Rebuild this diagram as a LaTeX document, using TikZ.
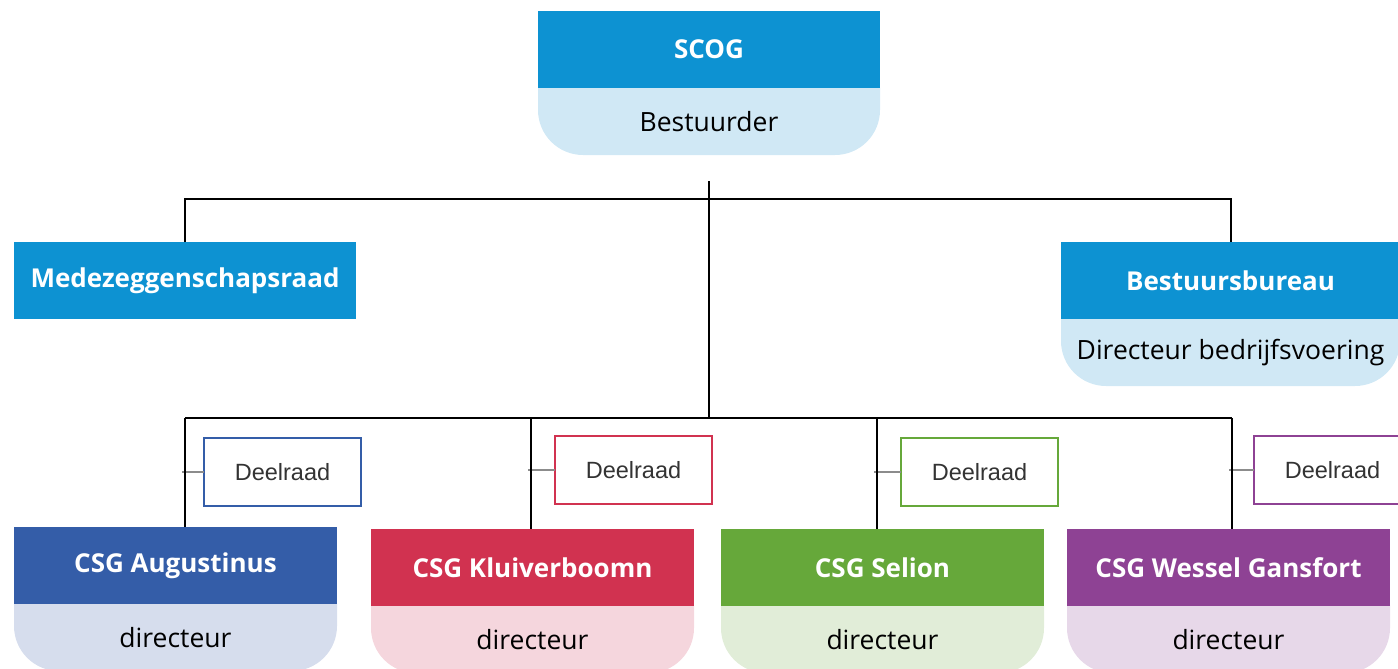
\documentclass[tikz,border=0pt]{standalone}
\usepackage{fontspec}
\setmainfont{Open Sans}
\newfontfamily\dfont{Liberation Sans}
\definecolor{hblue}{HTML}{0D92D2}
\definecolor{lblue}{HTML}{D0E8F5}
\definecolor{augd}{HTML}{345DA8}
\definecolor{augl}{HTML}{D6DDED}
\definecolor{klud}{HTML}{D13250}
\definecolor{klul}{HTML}{F5D6DD}
\definecolor{seld}{HTML}{66A83A}
\definecolor{sell}{HTML}{E1EDD8}
\definecolor{wesd}{HTML}{8E4294}
\definecolor{wesl}{HTML}{E7D8E9}
\definecolor{dtext}{HTML}{333333}
\definecolor{conngray}{HTML}{8C8C8C}
\tikzset{
  head/.style={fill=#1, text=white, font=\fontsize{26}{30}\selectfont\bfseries,
    minimum height=77pt, inner sep=0pt, outer sep=0pt, anchor=north west},
  body/.style={text=black, font=\fontsize{26.5}{30}\selectfont,
    minimum height=67pt, inner sep=0pt, outer sep=0pt, anchor=north west},
  bodyfill/.style={fill=#1, rounded corners=45pt},
  council/.style={draw=#1, line width=2pt, fill=white, text=dtext,
    font=\dfont\fontsize{23.5}{27}\selectfont, minimum width=157pt,
    minimum height=68pt, inner sep=0pt, outer sep=0pt, anchor=north west},
  conn/.style={draw=black, line width=2pt},
  sideconn/.style={draw=conngray, line width=2.5pt},
}
\begin{document}
\begin{tikzpicture}[x=1pt,y=-1pt]
\useasboundingbox (0,0) rectangle (1398,669);
\clip (0,0) rectangle (1398,669);
% body placeholders (for geometry)
\node[body, minimum width=342pt] (scogb) at (538,88) {};
\node[body, minimum width=339pt] (bbb) at (1061,319) {};
\node[body, minimum width=323pt] (augb) at (14,604) {};
\node[body, minimum width=323pt] (klub) at (371,606) {};
\node[body, minimum width=323pt] (selb) at (721,606) {};
\node[body, minimum width=323pt] (wesb) at (1067,606) {};
% body fills with rounded bottoms
\fill[bodyfill=lblue] ([yshift=45pt]scogb.north west) rectangle (scogb.south east);
\fill[bodyfill=lblue] ([yshift=45pt]bbb.north west) rectangle (bbb.south east);
\fill[bodyfill=augl] ([yshift=45pt]augb.north west) rectangle (augb.south east);
\fill[bodyfill=klul] ([yshift=45pt]klub.north west) rectangle (klub.south east);
\fill[bodyfill=sell] ([yshift=45pt]selb.north west) rectangle (selb.south east);
\fill[bodyfill=wesl] ([yshift=45pt]wesb.north west) rectangle (wesb.south east);
% body texts
\node[body, minimum width=342pt] (scogt) at (538,88) {Bestuurder};
\node[body, minimum width=339pt] (bbt) at (1061,319) {Directeur bedrijfsvoering};
\node[body, minimum width=323pt] (augt) at (14,604) {directeur};
\node[body, minimum width=323pt] (klut) at (371,606) {directeur};
\node[body, minimum width=323pt] (selt) at (721,606) {directeur};
\node[body, minimum width=323pt] (west) at (1067,606) {directeur};
% headers
\node[head=hblue, minimum width=342pt] (scog) at (538,11) {SCOG};
\node[head=hblue, minimum width=342pt] (mr) at (14,242) {Medezeggenschapsraad};
\node[head=hblue, minimum width=339pt] (bb) at (1061,242) {Bestuursbureau};
\node[head=augd, minimum width=323pt] (aug) at (14,527) {CSG Augustinus};
\node[head=klud, minimum width=323pt] (klu) at (371,529) {CSG Kluiverboomn};
\node[head=seld, minimum width=323pt] (sel) at (721,529) {CSG Selion};
\node[head=wesd, minimum width=323pt] (wes) at (1067,529) {CSG Wessel Gansfort};
% councils
\node[council=augd] (dra) at (204,438) {Deelraad};
\node[council=klud] (drk) at (555,436) {Deelraad};
\node[council=seld] (drs) at (901,438) {Deelraad};
\node[council=wesd] (drw) at (1254,436) {Deelraad};
% connector coordinates
\coordinate (stem) at (709,181);
\coordinate (bus1) at (709,199);
\coordinate (bus2) at (709,418);
\coordinate (ba) at (185,418);
\coordinate (bk) at (531,418);
\coordinate (bs) at (877,418);
\coordinate (bw) at (1232,418);
% connectors
\draw[conn] (stem) -- (bus2);
\draw[conn] (mr.north) -- (mr.north |- bus1) -- (bb.north |- bus1) -- (bb.north);
\draw[conn] (ba) -- (bw);
\draw[sideconn] (dra.west) -- ([xshift=-3pt]dra.west -| ba);
\draw[sideconn] (drk.west) -- ([xshift=-3pt]drk.west -| bk);
\draw[sideconn] (drs.west) -- ([xshift=-3pt]drs.west -| bs);
\draw[sideconn] (drw.west) -- ([xshift=-3pt]drw.west -| bw);
\draw[conn] (ba) -- (ba |- aug.north);
\draw[conn] (bk) -- (bk |- klu.north);
\draw[conn] (bs) -- (bs |- sel.north);
\draw[conn] (bw) -- (bw |- wes.north);
\end{tikzpicture}
\end{document}
